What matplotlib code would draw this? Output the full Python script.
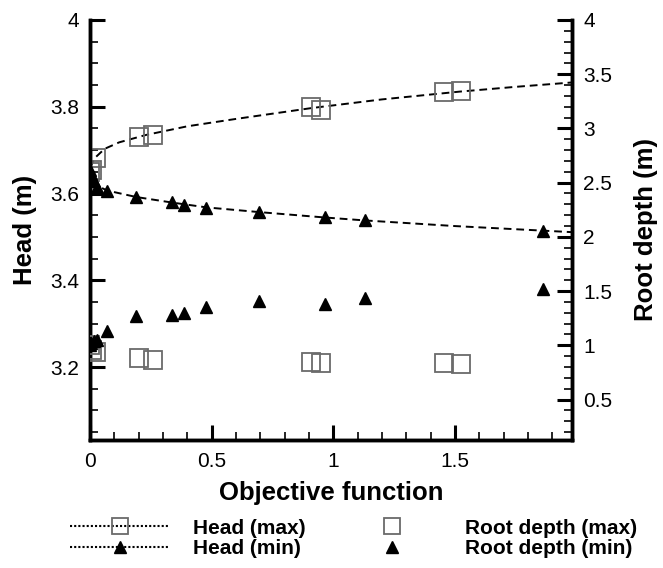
import matplotlib
matplotlib.use("Agg")
import matplotlib.pyplot as plt
from matplotlib.ticker import MultipleLocator, FixedLocator
from matplotlib.lines import Line2D

plt.rcParams['font.family'] = ['Liberation Sans', 'DejaVu Sans']

# ---- data ----
head_max_x = [0.0, 0.01, 0.025, 0.20, 0.26, 0.91, 0.95, 1.455, 1.525]
head_max_y = [3.650, 3.655, 3.683, 3.730, 3.735, 3.800, 3.793, 3.833, 3.837]
head_max_fit_x = [0.0, 0.02, 0.06, 0.12, 0.23, 0.40, 0.60, 0.91, 1.20, 1.52, 1.75, 1.98]
head_max_fit_y = [3.660, 3.682, 3.703, 3.718, 3.735, 3.755, 3.772, 3.797, 3.817, 3.835, 3.846, 3.856]

head_min_x = [0.0, 0.005, 0.015, 0.03, 0.07, 0.19, 0.335, 0.385, 0.475, 0.695, 0.965, 1.13, 1.86]
head_min_y = [3.655, 3.645, 3.630, 3.615, 3.607, 3.591, 3.580, 3.573, 3.567, 3.558, 3.547, 3.539, 3.514]
head_min_fit_x = [0.0, 0.01, 0.03, 0.07, 0.19, 0.34, 0.48, 0.70, 0.96, 1.13, 1.50, 1.98]
head_min_fit_y = [3.660, 3.635, 3.618, 3.607, 3.592, 3.579, 3.568, 3.557, 3.545, 3.538, 3.525, 3.511]

root_max_x = head_max_x
root_max_y = [1.00, 0.96, 0.94, 0.88, 0.86, 0.85, 0.836, 0.841, 0.827]

root_min_x = head_min_x
root_min_y = [1.00, 1.02, 1.04, 1.05, 1.13, 1.27, 1.28, 1.30, 1.35, 1.41, 1.38, 1.44, 1.52]

x_ticks = [0, 0.5, 1, 1.5]
x_tick_labels = ['0', '0.5', '1', '1.5']
left_ticks = [3.2, 3.4, 3.6, 3.8, 4.0]
left_tick_labels = ['3.2', '3.4', '3.6', '3.8', '4']
right_ticks = [0.5, 1, 1.5, 2, 2.5, 3, 3.5, 4]
right_tick_labels = ['0.5', '1', '1.5', '2', '2.5', '3', '3.5', '4']

# ---- figure ----
fig = plt.figure(figsize=(6.63, 5.68), dpi=100)
ax = fig.add_axes([0.1357, 0.2254, 0.7270, 0.7394])
ax2 = ax.twinx()

sq_col = '#6a6a6a'
ax.plot(head_max_fit_x, head_max_fit_y, color='black', lw=1.4, ls=(0, (4, 2.5)), zorder=2)
ax.plot(head_min_fit_x, head_min_fit_y, color='black', lw=1.4, ls=(0, (4, 2.5)), zorder=2)
ax.plot(head_max_x, head_max_y, ls='none', marker='s', ms=12.5, mfc='none', mec=sq_col, mew=1.3, zorder=3)
ax.plot(head_min_x, head_min_y, ls='none', marker='^', ms=9, color='black', zorder=3)
ax2.plot(root_max_x, root_max_y, ls='none', marker='s', ms=12.5, mfc='none', mec=sq_col, mew=1.3, zorder=3)
ax2.plot(root_min_x, root_min_y, ls='none', marker='^', ms=9, color='black', zorder=3)

ax.set_xlim(0, 1.98)
ax.set_ylim(3.032, 4.0)
ax2.set_ylim(0.127, 4.0)

ax.xaxis.set_major_locator(FixedLocator(x_ticks))
ax.set_xticklabels(x_tick_labels)
ax.xaxis.set_minor_locator(MultipleLocator(0.1))
ax.yaxis.set_major_locator(FixedLocator(left_ticks))
ax.set_yticklabels(left_tick_labels)
ax.yaxis.set_minor_locator(MultipleLocator(0.05))
ax2.yaxis.set_major_locator(FixedLocator(right_ticks))
ax2.set_yticklabels(right_tick_labels)
ax2.yaxis.set_minor_locator(MultipleLocator(0.1))

for a in (ax, ax2):
    a.spines['top'].set_visible(False)
    for s in ('left', 'right', 'bottom'):
        a.spines[s].set_linewidth(2.5)

ax.tick_params(axis='both', which='major', direction='in', length=10.5, width=2.2,
               labelsize=15, pad=8, top=False, right=False)
ax.tick_params(axis='x', which='major', pad=9)
ax.tick_params(axis='both', which='minor', direction='in', length=6, width=1.2,
               top=False, right=False)
ax2.tick_params(axis='y', which='major', direction='in', length=10.5, width=2.2,
                labelsize=15, pad=8)
ax2.tick_params(axis='y', which='minor', direction='in', length=6, width=1.2)

ax.set_xlabel('Objective function', fontsize=18.5, fontweight='bold', labelpad=7)
ax.set_ylabel('Head (m)', fontsize=18.5, fontweight='bold', labelpad=9)
ax2.set_ylabel('Root depth (m)', fontsize=18.5, fontweight='bold', labelpad=16)

# ---- legend ----
h1 = Line2D([], [], color='black', lw=1.5, ls=(0, (1, 1)), marker='s', ms=12, mfc='none', mec=sq_col, mew=1.3)
h2 = Line2D([], [], color='black', lw=1.5, ls=(0, (1, 1)), marker='^', ms=8)
h3 = Line2D([], [], ls='none', marker='s', ms=12, mfc='none', mec=sq_col, mew=1.3)
h4 = Line2D([], [], ls='none', marker='^', ms=8, color='black')
leg = fig.legend([h1, h2, h3, h4], ['Head (max)', 'Head (min)', 'Root depth (max)', 'Root depth (min)'],
                 ncol=2, loc='center', bbox_to_anchor=(0.533, 0.0520), frameon=False,
                 prop={'size': 15, 'weight': 'bold'}, handlelength=4.8, handletextpad=1.1,
                 columnspacing=1.75, labelspacing=0.08, borderaxespad=0, numpoints=1)

fig.savefig('out.png', dpi=100)
